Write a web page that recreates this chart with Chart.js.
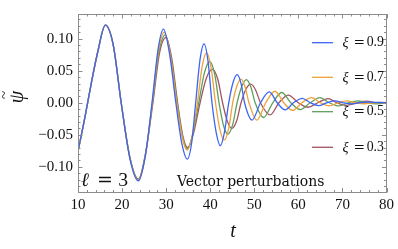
<!DOCTYPE html>
<html><head><meta charset="utf-8">
<script src="https://cdn.jsdelivr.net/npm/chart.js@4"></script>
<style>html,body{margin:0;padding:0;background:#fff}</style>
</head><body>
<canvas id="c" width="398" height="249" style="width:398px;height:249px;display:block"></canvas>
<script>
// ---- data: [t, psi] ----
const xi09 = [[10,-0.076],[11.5,-0.025],[13,0.030],[14.5,0.080],[16.2,0.121],[18,0.090],[19.8,0],[21.8,-0.088],[23.7,-0.122],[25.3,-0.082],[26.8,0],[28.2,0.085],[29.4,0.115],[30.8,0.075],[32.2,0],[33.6,-0.065],[34.8,-0.088],[35.8,-0.062],[36.7,0],[37.7,0.068],[38.6,0.092],[39.5,0.065],[40.4,0],[41.4,-0.048],[42.3,-0.067],[43.2,-0.047],[44.2,0],[45.2,0.032],[46.1,0.044],[47,0.030],[47.8,0],[49.5,-0.027],[51.4,0],[53.4,0.017],[55.2,0],[57.0,-0.011],[58.9,0],[60.9,0.007],[62.7,0],[64.6,-0.0045],[66.4,0],[68.3,0.003],[70.1,0],[72,-0.0018],[73.8,0],[75.7,0.001],[80,0]];
const xi07 = [[10,-0.076],[11.5,-0.025],[13,0.030],[14.5,0.080],[16.2,0.121],[18,0.090],[19.8,0],[21.8,-0.087],[23.7,-0.121],[25.3,-0.082],[26.85,0],[28.3,0.083],[29.6,0.110],[31,0.072],[32.4,0],[33.7,-0.055],[34.8,-0.074],[35.9,-0.052],[37.1,0],[38.2,0.058],[39.2,0.078],[40.2,0.055],[41.2,0],[42.2,-0.042],[43.2,-0.058],[44.2,-0.040],[45.1,0],[46.1,0.027],[47.0,0.037],[47.9,0.025],[48.8,0],[50.6,-0.027],[52.6,0],[54.7,0.018],[56.7,0],[58.7,-0.012],[60.8,0],[63.0,0.008],[65,0],[67,-0.005],[69,0],[71,0.003],[73,0],[75,-0.0015],[77,0],[80,0.0005]];
const xi05 = [[10,-0.076],[11.5,-0.025],[13,0.030],[14.5,0.080],[16.2,0.121],[18,0.090],[19.8,0],[21.8,-0.086],[23.7,-0.120],[25.3,-0.081],[26.9,0],[28.4,0.080],[29.8,0.106],[31.1,0.070],[32.5,0],[33.7,-0.053],[34.8,-0.072],[36,-0.050],[37.4,0],[38.7,0.047],[39.9,0.064],[41,0.045],[42.0,0],[43.0,-0.035],[44.0,-0.049],[45.1,-0.034],[46.1,0],[47.2,0.026],[48.2,0.036],[49.2,0.025],[50.2,0],[52.1,-0.023],[54.2,0],[56.2,0.016],[58.3,0],[60.4,-0.0106],[62.7,0],[64.9,0.008],[67,0],[69.2,-0.005],[71.3,0],[73.5,0.003],[75.6,0],[77.8,-0.0015],[80,0]];
const xi03 = [[10,-0.076],[11.5,-0.025],[13,0.030],[14.5,0.080],[16.2,0.121],[18,0.090],[19.8,0],[21.8,-0.086],[23.7,-0.119],[25.3,-0.080],[27.0,0],[28.5,0.078],[30.0,0.102],[31.3,0.068],[32.6,0],[33.8,-0.052],[34.9,-0.070],[36.2,-0.048],[37.7,0],[39.1,0.038],[40.5,0.052],[41.7,0.037],[42.8,0],[43.9,-0.029],[44.9,-0.040],[46,-0.028],[47.0,0],[48.1,0.021],[49.2,0.029],[50.3,0.020],[51.4,0],[53.6,-0.019],[55.6,0],[57.7,0.012],[60.0,0],[62.2,-0.007],[64.4,0],[66.7,0.0066],[68.8,0],[71,-0.004],[73.2,0],[75.5,0.0025],[77.7,0],[80,-0.001]];
const xiValues = ['0.9','0.7','0.5','0.3'];
const xTicks = [10,20,30,40,50,60,70,80];
const yTicks = [-0.10,-0.05,0.00,0.05,0.10];

const colors = ['#3c64f5','#eda23a','#5e9e5e','#a3555f'];
const series = [xi09, xi07, xi05, xi03];
const serif = '"Liberation Serif", serif';
const wideSerif = '"DejaVu Serif", serif';
const frameColor = '#8c8c8c';

const decor = {
  id: 'decor',
  afterDatasetsDraw(chart) {
    const ctx = chart.ctx, a = chart.chartArea;
    const xs = chart.scales.x, ys = chart.scales.y;
    ctx.save();
    ctx.strokeStyle = frameColor; ctx.lineWidth = 1;
    ctx.strokeRect(Math.round(a.left)+0.5, Math.round(a.top)+0.5, Math.round(a.right-a.left)-1, Math.round(a.bottom-a.top)-1);
    ctx.beginPath();
    for (let v = xs.min; v <= xs.max + 1e-9; v += 2) {
      const px = Math.round(xs.getPixelForValue(v)) + 0.5;
      const L = (Math.abs(v % 10) < 1e-9) ? 4.5 : 2.5;
      ctx.moveTo(px, a.bottom); ctx.lineTo(px, a.bottom - L);
      ctx.moveTo(px, a.top); ctx.lineTo(px, a.top + L);
    }
    for (let k = -13; k <= 13; k++) {
      const v = k / 100;
      const py = Math.round(ys.getPixelForValue(v)) + 0.5;
      const L = (k % 5 === 0) ? 4.5 : 2.5;
      ctx.moveTo(a.left, py); ctx.lineTo(a.left + L, py);
      ctx.moveTo(a.right, py); ctx.lineTo(a.right - L, py);
    }
    ctx.stroke();

    // legend
    const legY = [42.7, 77.3, 111.7, 147.3];
    ctx.textBaseline = 'middle';
    ctx.fillStyle = '#111';
    for (let i = 0; i < 4; i++) {
      ctx.strokeStyle = colors[i]; ctx.lineWidth = 1.3;
      ctx.beginPath(); ctx.moveTo(312, legY[i]); ctx.lineTo(333, legY[i]); ctx.stroke();
      ctx.font = 'italic 14px ' + serif;
      ctx.fillText('ξ', 342.5, legY[i] + 1);
      ctx.font = '13.8px ' + wideSerif;
      ctx.fillText('=', 353.5, legY[i]);
      ctx.font = '13.8px ' + serif;
      ctx.fillText(xiValues[i], 366.7, legY[i]);
    }
    // annotations
    ctx.textBaseline = 'alphabetic';
    ctx.font = 'italic 19px ' + wideSerif;
    ctx.fillText('ℓ', 81, 186);
    ctx.font = '19px ' + wideSerif;
    ctx.fillText('=', 97, 186);
    ctx.font = '19.7px ' + serif;
    ctx.fillText('3', 118.3, 186);
    ctx.font = '14px ' + wideSerif;
    ctx.fillText('Vector perturbations', 177, 185.5);
    // axis titles
    ctx.font = 'italic 20px ' + serif;
    ctx.textAlign = 'center'; ctx.textBaseline = 'middle';
    ctx.fillText('t', 233, 232);
    ctx.translate(18, 97);
    ctx.rotate(-Math.PI / 2);
    ctx.fillText('ψ', 0, 0);
    ctx.font = '15px ' + serif;
    ctx.fillText('~', 2, -13);
    ctx.restore();
  }
};

new Chart(document.getElementById('c'), {
  type: 'line',
  data: {
    datasets: series.map((s, i) => ({
      label: 'ξ = ' + xiValues[i],
      data: s.map(p => ({x: p[0], y: p[1]})),
      borderColor: colors[i],
      borderWidth: 1.3,
      pointRadius: 0,
      fill: false,
      cubicInterpolationMode: 'monotone',
      order: i + 1
    }))
  },
  options: {
    responsive: false, animation: false, devicePixelRatio: 1,
    layout: { padding: { top: 1, right: 9, left: 0, bottom: 0 } },
    plugins: { legend: { display: false }, tooltip: { enabled: false } },
    scales: {
      x: {
        type: 'linear', min: 10, max: 80,
        afterBuildTicks: s => { s.ticks = xTicks.map(v => ({value: v})); },
        afterFit: s => { s.height = 56.5; },
        grid: { display: false, drawTicks: false }, border: { display: false },
        ticks: { font: { family: serif, size: 15 }, color: '#111', padding: 4, maxRotation: 0, autoSkip: false,
                 callback: v => String(v) }
      },
      y: {
        type: 'linear', min: -0.14, max: 0.1385,
        afterBuildTicks: s => { s.ticks = yTicks.map(v => ({value: v})); },
        afterFit: s => { s.width = 78; },
        grid: { display: false, drawTicks: false }, border: { display: false },
        ticks: { font: { family: serif, size: 15 }, color: '#111', padding: 5, autoSkip: false,
                 callback: v => (v < 0 ? '\u2212' : '') + Math.abs(v).toFixed(2) }
      }
    }
  },
  plugins: [decor]
});
</script>
</body></html>
